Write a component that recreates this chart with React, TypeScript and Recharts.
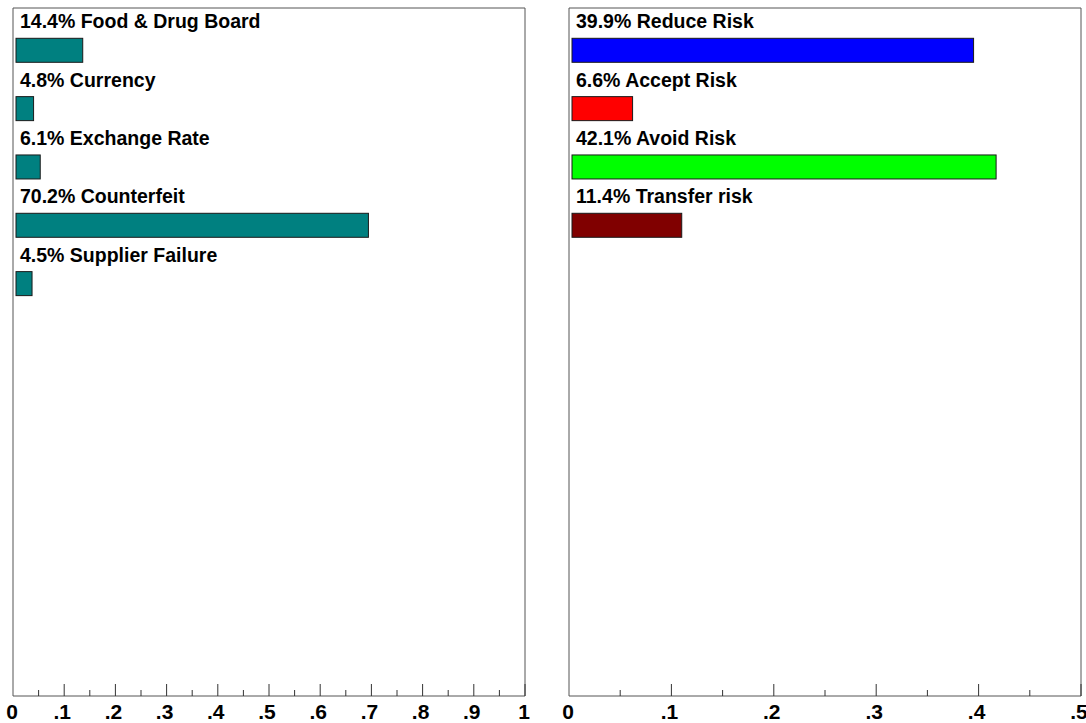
import React from "react";
import { Bar, BarChart, Cell, LabelList, XAxis, YAxis } from "recharts";

const riskCategories = ["Food & Drug Board", "Currency", "Exchange Rate", "Counterfeit", "Supplier Failure"];
const riskShares = [0.144, 0.048, 0.061, 0.702, 0.045];

const responseCategories = ["Reduce Risk", "Accept Risk", "Avoid Risk", "Transfer risk"];
const responseShares = [0.399, 0.066, 0.421, 0.114];
const responseColors = ["#0000ff", "#ff0000", "#00ff00", "#800000"];

const riskTicks = [0, 0.05, 0.1, 0.15, 0.2, 0.25, 0.3, 0.35, 0.4, 0.45, 0.5, 0.55, 0.6, 0.65, 0.7, 0.75, 0.8, 0.85, 0.9, 0.95, 1];
const riskTickLabels = ["0", ".1", ".2", ".3", ".4", ".5", ".6", ".7", ".8", ".9", "1"];
const responseTicks = [0, 0.05, 0.1, 0.15, 0.2, 0.25, 0.3, 0.35, 0.4, 0.45, 0.5];
const responseTickLabels = ["0", ".1", ".2", ".3", ".4", ".5"];

const FONT = '"Liberation Sans", Arial, Helvetica, sans-serif';
const FRAME = "#555555";
const ROW_PAD_TOP = 13.3;
const ROW_HEIGHT = 58.33;
const PLOT_HEIGHT = 688;

const toRows = (names: string[], shares: number[]) =>
  names.map((name, i) => ({
    name,
    share: shares[i],
    label: `${(shares[i] * 100).toFixed(1)}% ${name}`
  }));

const riskData = toRows(riskCategories, riskShares);
const responseData = toRows(responseCategories, responseShares);

function AxisTick(props: any) {
  const { x, y, payload, labels } = props;
  const step = Math.round(payload.value * 20);
  const major = step % 2 === 0;
  const label: string | null = major ? labels[step / 2] : null;
  return (
    <g>
      {step > 0 && <line x1={x} x2={x} y1={y} y2={y - (major ? 12 : 6)} stroke="#333" strokeWidth={1} />}
      {label && (
        <text
          x={x + (label.startsWith(".") ? -2 : -1)}
          y={y + 23}
          textAnchor="middle"
          fontFamily={FONT}
          fontWeight="bold"
          fontSize={21}
          fill="#000"
        >
          {label}
        </text>
      )}
    </g>
  );
}

// bars sit a few pixels inside the frame, as in the source plot
function InsetBar(props: any) {
  const { x, y, width, height, fill } = props;
  return (
    <rect x={x + 3} y={y} width={Math.max(width - 7, 1)} height={height} fill={fill} stroke="#1a1a1a" strokeWidth={1} />
  );
}

function RowLabel(props: any) {
  const vb = props.viewBox ?? props;
  const x = vb.x ?? props.x;
  const y = vb.y ?? props.y;
  return (
    <text x={x + 7} y={y - 10} fontFamily={FONT} fontWeight="bold" fontSize={19.5} fill="#000">
      {props.value}
    </text>
  );
}

function Panel({
  data,
  ticks,
  tickLabels,
  max,
  width,
  margin,
  colors
}: {
  data: { name: string; share: number; label: string }[];
  ticks: number[];
  tickLabels: string[];
  max: number;
  width: number;
  margin: { top: number; right: number; bottom: number; left: number };
  colors?: string[];
}) {
  const padBottom = PLOT_HEIGHT - ROW_PAD_TOP - ROW_HEIGHT * data.length;
  return (
    <BarChart layout="vertical" width={width} height={723} data={data} margin={margin} barSize={24}>
      <XAxis
        type="number"
        domain={[0, max]}
        ticks={ticks}
        interval={0}
        height={27}
        tickSize={0}
        tickMargin={0}
        tickLine={false}
        axisLine={{ stroke: FRAME }}
        tick={<AxisTick labels={tickLabels} />}
      />
      <XAxis xAxisId="top" orientation="top" type="number" domain={[0, max]} height={1} tick={false} tickLine={false} axisLine={{ stroke: FRAME }} />
      <YAxis
        type="category"
        dataKey="name"
        width={1}
        tick={false}
        tickLine={false}
        axisLine={{ stroke: FRAME }}
        padding={{ top: ROW_PAD_TOP, bottom: padBottom }}
      />
      <YAxis yAxisId="right" orientation="right" type="category" dataKey="name" width={1} tick={false} tickLine={false} axisLine={{ stroke: FRAME }} />
      <Bar dataKey="share" fill="#008080" shape={<InsetBar />} isAnimationActive={false}>
        {colors && data.map((row, i) => <Cell key={row.name} fill={colors[i]} />)}
        <LabelList dataKey="label" content={<RowLabel />} />
      </Bar>
    </BarChart>
  );
}

export default function App() {
  return (
    <div
      style={{
        position: "fixed",
        left: 0,
        top: 0,
        width: 1086,
        height: 723,
        overflow: "hidden",
        background: "#fff",
        fontFamily: FONT
      }}
    >
      <div style={{ position: "absolute", left: 0, top: 0 }}>
        <Panel
          data={riskData}
          ticks={riskTicks}
          tickLabels={riskTickLabels}
          max={1}
          width={540}
          margin={{ top: 7, right: 14, bottom: 0, left: 12 }}
        />
      </div>
      <div style={{ position: "absolute", left: 555, top: 0 }}>
        <Panel
          data={responseData}
          ticks={responseTicks}
          tickLabels={responseTickLabels}
          max={0.5}
          width={531}
          margin={{ top: 7, right: 4, bottom: 0, left: 13 }}
          colors={responseColors}
        />
      </div>
    </div>
  );
}
